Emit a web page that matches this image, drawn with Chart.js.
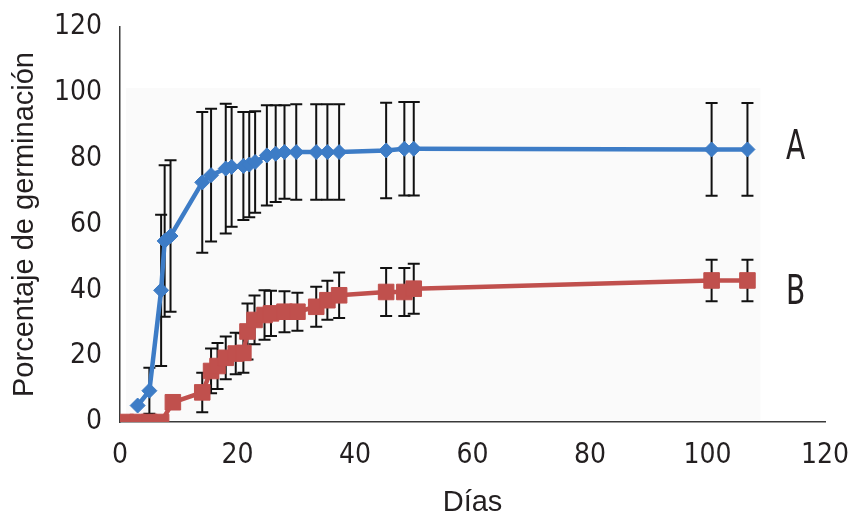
<!DOCTYPE html>
<html>
<head>
<meta charset="utf-8">
<script src="https://cdn.jsdelivr.net/npm/chart.js@4/dist/chart.umd.min.js"></script>
<style>
  html, body { margin: 0; padding: 0; background: #fff; }
  #wrap { width: 848px; height: 517px; }
</style>
</head>
<body>
<div id="wrap"><canvas id="germChart" width="848" height="517"></canvas></div>
<script>
// tick labels
var xTicks = [0, 20, 40, 60, 80, 100, 120];
var yTicks = [0, 20, 40, 60, 80, 100, 120];

// serie A (rombos azules)
var diasA = [3, 5, 7, 7.6, 8.6, 14, 15.5, 18, 19, 21, 22, 23, 25, 26.5, 28, 30, 33.4, 35.3, 37.3, 45.3, 48.4, 50, 100.7, 106.8];
var germA = [5, 9.5, 40, 55, 56.5, 72.8, 75, 77, 77.5, 77.8, 78.2, 79, 81, 81.5, 82, 82, 82, 82, 82, 82.5, 83, 83, 82.8, 82.8];
var errA  = [0, 7, 23, 23, 23, 21.4, 20.2, 19.7, 18.2, 16.4, 16, 15.4, 15.2, 14.7, 14.2, 14.5, 14.5, 14.5, 14.5, 14.5, 14.2, 14.2, 14.1, 14.1];

// serie B (cuadrados rojos)
var diasB = [1, 3, 5, 7, 9, 14, 15.5, 16.6, 18, 19.7, 21, 21.7, 22.9, 24.6, 25.7, 28, 30.2, 33.4, 35.3, 37.3, 45.3, 48.4, 50, 100.7, 106.8];
var germB = [0, 0, 0, 0, 6, 9, 15.5, 17, 19.5, 20.8, 21, 27.5, 31, 32.5, 33, 33.5, 33.5, 35, 37, 38.5, 39.5, 39.5, 40.5, 43, 43];
var errB  = [0, 0, 0, 0, 0, 6, 6.8, 7, 6.5, 6.3, 6, 8.5, 7.4, 7.5, 6.9, 6.2, 5.8, 6.1, 5.9, 6.9, 7.3, 7.3, 7.6, 6.3, 6.3];

var serieNames = ["A", "B"];

var GermChart = {

  colors : { blue: "#3d7cc6", red: "#c0504d", text: "#231f20", axis: "#3a3a3a", plotBg: "#fafafa" },

  condensed : "'Liberation Sans Narrow', 'DejaVu Sans Condensed', sans-serif",

  toPoints : function(xs, ys) {
    var pts = [];
    for (var i = 0; i < xs.length; i++) {
      pts.push({ x: xs[i], y: ys[i] });
    }
    return pts;
  },

  // faint grey plot area that sits behind the original figure
  plotBgPlugin : {
    id: "plotBg",
    beforeDatasetsDraw: function(chart, args, opts) {
      var xs = chart.scales.x, ys = chart.scales.y, ctx = chart.ctx;
      var l = xs.getPixelForValue(opts.x0), r = xs.getPixelForValue(opts.x1);
      var t = ys.getPixelForValue(opts.y1), b = ys.getPixelForValue(opts.y0);
      ctx.save();
      ctx.fillStyle = opts.color;
      ctx.fillRect(l, t, r - l, b - t);
      ctx.restore();
    }
  },

  // vertical error bars with caps, drawn under the markers
  errorBarPlugin : {
    id: "errorBars",
    beforeDatasetsDraw: function(chart, args, opts) {
      var ctx = chart.ctx, ys = chart.scales.y;
      ctx.save();
      ctx.strokeStyle = opts.color;
      ctx.lineWidth = opts.width;
      chart.data.datasets.forEach(function(ds, di) {
        var meta = chart.getDatasetMeta(di);
        ds.errors.forEach(function(e, i) {
          if (!e) return;
          var p = meta.data[i];
          var v = ds.data[i].y;
          var top = ys.getPixelForValue(v + e);
          var bot = ys.getPixelForValue(Math.max(v - e, 0));
          ctx.beginPath();
          ctx.moveTo(p.x, top);
          ctx.lineTo(p.x, bot);
          ctx.moveTo(p.x - opts.cap, top);
          ctx.lineTo(p.x + opts.cap, top);
          if (v - e > 0) {
            ctx.moveTo(p.x - opts.cap, bot);
            ctx.lineTo(p.x + opts.cap, bot);
          }
          ctx.stroke();
        });
      });
      ctx.restore();
    }
  },

  // "A" / "B" next to the end of each curve (narrow lettering)
  serieLabelPlugin : {
    id: "serieLabels",
    afterDatasetsDraw: function(chart, args, opts) {
      var ctx = chart.ctx, xs = chart.scales.x, ys = chart.scales.y;
      ctx.save();
      ctx.fillStyle = opts.color;
      ctx.font = opts.font;
      ctx.textAlign = "center";
      ctx.textBaseline = "middle";
      opts.labels.forEach(function(lb) {
        var px = xs.getPixelForValue(lb.x), py = ys.getPixelForValue(lb.y);
        ctx.save();
        ctx.translate(px, py);
        ctx.scale(opts.squeeze, 1);
        ctx.fillText(lb.text, 0, 0);
        ctx.restore();
      });
      ctx.restore();
    }
  },

  lineChart : function(chartId) {
    var c = this.colors;
    var tickFont = { family: this.condensed, size: 28 };
    var titleFont = { family: "'Liberation Sans', Arial, sans-serif", size: 29, lineHeight: 1 };

    var chartData = {
      datasets: [
        {
          label: serieNames[0],
          data: this.toPoints(diasA, germA),
          errors: errA,
          borderColor: c.blue,
          backgroundColor: c.blue,
          borderWidth: 4.5,
          pointStyle: "rectRot",
          pointRadius: 7.5,
          pointBorderWidth: 1,
          tension: 0
        },
        {
          label: serieNames[1],
          data: this.toPoints(diasB, germB),
          errors: errB,
          borderColor: c.red,
          backgroundColor: c.red,
          borderWidth: 4.5,
          pointStyle: "rect",
          pointRadius: 11,
          pointBorderWidth: 1,
          tension: 0
        }
      ]
    };

    var chartOptions = {
      responsive: false,
      animation: false,
      devicePixelRatio: 1,
      layout: { padding: { top: 27, right: 23, bottom: 0, left: 0 } },
      scales: {
        x: {
          type: "linear",
          min: 0,
          max: 120,
          afterBuildTicks: function(s) { s.ticks = xTicks.map(function(v) { return { value: v }; }); },
          afterFit: function(s) { s.height = 95; s.paddingLeft = 0; s.paddingRight = 0; },
          grid: { display: false, drawTicks: false },
          border: { display: true, color: c.axis, width: 1.5 },
          ticks: { color: c.text, font: tickFont, padding: 17, maxRotation: 0 },
          title: { display: true, text: "Días", color: c.text, font: titleFont, padding: { top: 0, bottom: 0 } }
        },
        y: {
          type: "linear",
          min: 0,
          max: 120,
          afterBuildTicks: function(s) { s.ticks = yTicks.map(function(v) { return { value: v }; }); },
          afterFit: function(s) { s.width = 120; s.paddingTop = 0; s.paddingBottom = 0; },
          grid: { display: false, drawTicks: false },
          border: { display: true, color: c.axis, width: 1.5 },
          ticks: { color: c.text, font: tickFont, padding: 18 },
          title: { display: true, text: "Porcentaje de germinación", color: c.text, font: titleFont, padding: { top: 10, bottom: 0 } }
        }
      },
      plugins: {
        legend: { display: false },
        tooltip: { enabled: false },
        plotBg: { color: c.plotBg, x0: 1, x1: 109, y0: 0.5, y1: 101.5 },
        errorBars: { color: "#111", width: 2, cap: 6 },
        serieLabels: {
          color: c.text,
          font: "40px " + this.condensed,
          squeeze: 0.78,
          labels: [ { text: serieNames[0], x: 115, y: 83 }, { text: serieNames[1], x: 115, y: 39 } ]
        }
      }
    };

    var ctx = document.getElementById(chartId).getContext("2d");
    return new Chart(ctx, {
      type: "line",
      data: chartData,
      options: chartOptions,
      plugins: [this.plotBgPlugin, this.errorBarPlugin, this.serieLabelPlugin]
    });
  }
};

GermChart.lineChart("germChart");
</script>
</body>
</html>
